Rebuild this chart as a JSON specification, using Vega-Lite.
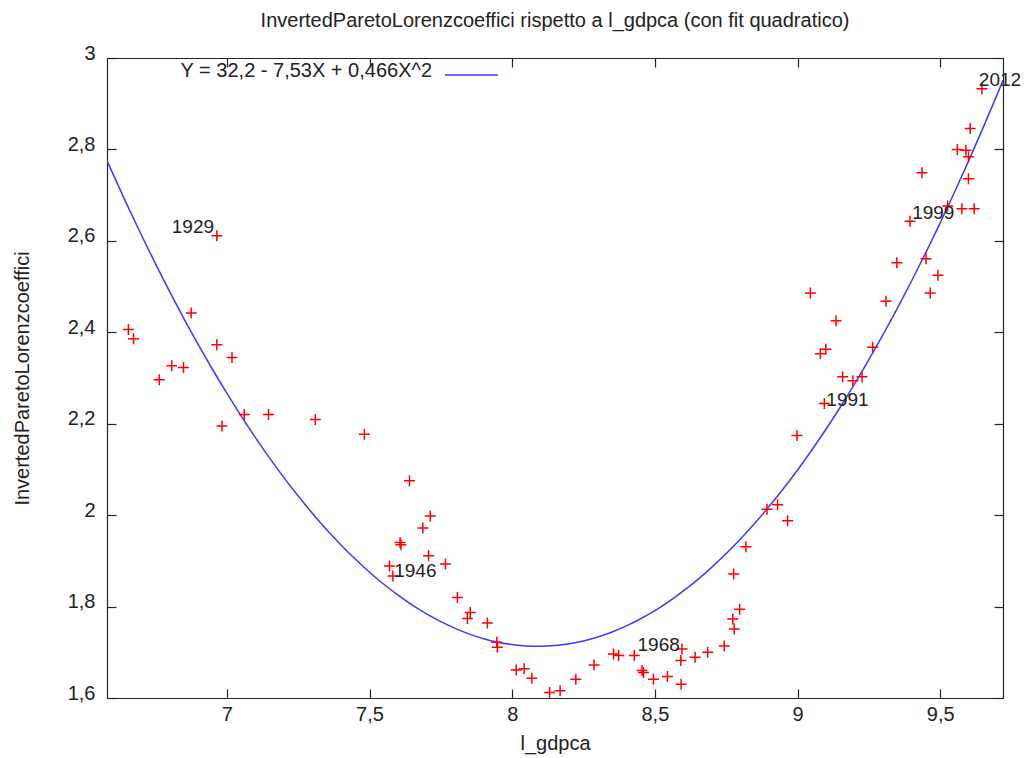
{
  "$schema": "https://vega.github.io/schema/vega-lite/v6.json",
  "width": 896,
  "height": 640,
  "autosize": {"type": "none"},
  "padding": {"left": 107, "top": 58, "right": 24, "bottom": 60},
  "background": "white",
  "title": {
    "text": "InvertedParetoLorenzcoeffici rispetto a l_gdpca (con fit quadratico)",
    "font": "Liberation Sans",
    "fontSize": 20,
    "fontWeight": "normal",
    "color": "#222222",
    "anchor": "middle",
    "frame": "group",
    "baseline": "alphabetic",
    "offset": 16,
    "dy": 20
  },
  "config": {"view": {"stroke": null}, "font": "Liberation Sans"},
  "datasets": {
    "curve": [
      {"x": 6.58, "y": 2.7755}, {"x": 6.65, "y": 2.6793}, {"x": 6.7, "y": 2.6134}, {"x": 6.75, "y": 2.5497},
      {"x": 6.8, "y": 2.4885}, {"x": 6.85, "y": 2.4295}, {"x": 6.9, "y": 2.3729}, {"x": 6.95, "y": 2.3186},
      {"x": 7.0, "y": 2.2667}, {"x": 7.05, "y": 2.217}, {"x": 7.1, "y": 2.1697}, {"x": 7.15, "y": 2.1248},
      {"x": 7.2, "y": 2.0821}, {"x": 7.25, "y": 2.0418}, {"x": 7.3, "y": 2.0038}, {"x": 7.35, "y": 1.9682},
      {"x": 7.4, "y": 1.9349}, {"x": 7.45, "y": 1.9039}, {"x": 7.5, "y": 1.8752}, {"x": 7.55, "y": 1.8489},
      {"x": 7.6, "y": 1.8249}, {"x": 7.65, "y": 1.8032}, {"x": 7.7, "y": 1.7839}, {"x": 7.75, "y": 1.7669},
      {"x": 7.8, "y": 1.7522}, {"x": 7.85, "y": 1.7398}, {"x": 7.9, "y": 1.7298}, {"x": 7.95, "y": 1.7221},
      {"x": 8.0, "y": 1.7168}, {"x": 8.05, "y": 1.7137}, {"x": 8.1, "y": 1.713}, {"x": 8.15, "y": 1.7147},
      {"x": 8.2, "y": 1.7186}, {"x": 8.25, "y": 1.7249}, {"x": 8.3, "y": 1.7336}, {"x": 8.35, "y": 1.7445},
      {"x": 8.4, "y": 1.7578}, {"x": 8.45, "y": 1.7734}, {"x": 8.5, "y": 1.7913}, {"x": 8.55, "y": 1.8116},
      {"x": 8.6, "y": 1.8342}, {"x": 8.65, "y": 1.8591}, {"x": 8.7, "y": 1.8864}, {"x": 8.75, "y": 1.916},
      {"x": 8.8, "y": 1.9479}, {"x": 8.85, "y": 1.9822}, {"x": 8.9, "y": 2.0187}, {"x": 8.95, "y": 2.0577},
      {"x": 9.0, "y": 2.0989}, {"x": 9.05, "y": 2.1425}, {"x": 9.1, "y": 2.1884}, {"x": 9.15, "y": 2.2366},
      {"x": 9.2, "y": 2.2872}, {"x": 9.25, "y": 2.34}, {"x": 9.3, "y": 2.3953}, {"x": 9.35, "y": 2.4528},
      {"x": 9.4, "y": 2.5127}, {"x": 9.45, "y": 2.5749}, {"x": 9.5, "y": 2.6395}, {"x": 9.55, "y": 2.7063},
      {"x": 9.6, "y": 2.7755}, {"x": 9.65, "y": 2.8471}, {"x": 9.7, "y": 2.9209}, {"x": 9.72, "y": 2.9511}
    ],
    "points": [
      {"x": 6.655, "y": 2.406}, {"x": 6.673, "y": 2.386}, {"x": 6.763, "y": 2.296}, {"x": 6.807, "y": 2.327},
      {"x": 6.848, "y": 2.323}, {"x": 6.875, "y": 2.442}, {"x": 6.965, "y": 2.611}, {"x": 6.965, "y": 2.373},
      {"x": 6.983, "y": 2.195}, {"x": 7.018, "y": 2.345}, {"x": 7.061, "y": 2.22}, {"x": 7.146, "y": 2.22},
      {"x": 7.31, "y": 2.209}, {"x": 7.482, "y": 2.177}, {"x": 7.57, "y": 1.889}, {"x": 7.582, "y": 1.867},
      {"x": 7.607, "y": 1.94}, {"x": 7.61, "y": 1.935}, {"x": 7.64, "y": 2.075}, {"x": 7.687, "y": 1.972},
      {"x": 7.707, "y": 1.911}, {"x": 7.713, "y": 1.998}, {"x": 7.766, "y": 1.893}, {"x": 7.808, "y": 1.82},
      {"x": 7.843, "y": 1.774}, {"x": 7.853, "y": 1.787}, {"x": 7.913, "y": 1.764}, {"x": 7.946, "y": 1.722},
      {"x": 7.948, "y": 1.711}, {"x": 8.014, "y": 1.661}, {"x": 8.042, "y": 1.664}, {"x": 8.069, "y": 1.643},
      {"x": 8.131, "y": 1.612}, {"x": 8.168, "y": 1.616}, {"x": 8.223, "y": 1.641}, {"x": 8.287, "y": 1.672},
      {"x": 8.355, "y": 1.696}, {"x": 8.373, "y": 1.693}, {"x": 8.428, "y": 1.693}, {"x": 8.455, "y": 1.66},
      {"x": 8.46, "y": 1.656}, {"x": 8.495, "y": 1.641}, {"x": 8.544, "y": 1.647}, {"x": 8.591, "y": 1.682},
      {"x": 8.592, "y": 1.63}, {"x": 8.595, "y": 1.707}, {"x": 8.641, "y": 1.689}, {"x": 8.685, "y": 1.7},
      {"x": 8.743, "y": 1.714}, {"x": 8.773, "y": 1.773}, {"x": 8.778, "y": 1.751}, {"x": 8.776, "y": 1.871},
      {"x": 8.797, "y": 1.794}, {"x": 8.819, "y": 1.931}, {"x": 8.893, "y": 2.013}, {"x": 8.93, "y": 2.023},
      {"x": 8.965, "y": 1.988}, {"x": 8.998, "y": 2.174}, {"x": 9.045, "y": 2.486}, {"x": 9.08, "y": 2.353},
      {"x": 9.094, "y": 2.244}, {"x": 9.099, "y": 2.363}, {"x": 9.135, "y": 2.425}, {"x": 9.158, "y": 2.303},
      {"x": 9.194, "y": 2.294}, {"x": 9.226, "y": 2.303}, {"x": 9.263, "y": 2.367}, {"x": 9.31, "y": 2.468},
      {"x": 9.348, "y": 2.552}, {"x": 9.394, "y": 2.643}, {"x": 9.436, "y": 2.749}, {"x": 9.45, "y": 2.561},
      {"x": 9.465, "y": 2.486}, {"x": 9.492, "y": 2.525}, {"x": 9.526, "y": 2.676}, {"x": 9.56, "y": 2.8},
      {"x": 9.576, "y": 2.67}, {"x": 9.59, "y": 2.798}, {"x": 9.599, "y": 2.784}, {"x": 9.599, "y": 2.736},
      {"x": 9.605, "y": 2.846}, {"x": 9.619, "y": 2.67}, {"x": 9.646, "y": 2.933}
    ],
    "labels": [
      {"x": 6.881, "y": 2.63, "label": "1929"},
      {"x": 7.6605, "y": 1.877, "label": "1946"},
      {"x": 8.5134, "y": 1.7153, "label": "1968"},
      {"x": 9.1751, "y": 2.2525, "label": "1991"},
      {"x": 9.4757, "y": 2.662, "label": "1999"},
      {"x": 9.7095, "y": 2.9525, "label": "2012"}
    ],
    "keytext": [{"x": 7.719, "y": 2.959, "label": "Y = 32,2 - 7,53X + 0,466X^2"}],
    "keyline": [{"x": 7.7645, "x2": 7.9502, "y": 2.9628}]
  },
  "layer": [
    {
      "data": {"name": "curve"},
      "mark": {"type": "line", "color": "#3a3aff", "strokeWidth": 1.5, "clip": true, "interpolate": "monotone"},
      "encoding": {
        "x": {
          "field": "x", "type": "quantitative",
          "scale": {"domain": [6.58, 9.72], "nice": false, "zero": false},
          "axis": {
            "orient": "bottom", "values": [7, 7.5, 8, 8.5, 9, 9.5],
            "labelExpr": "replace(format(datum.value, '~g'), '.', ',')",
            "title": "l_gdpca", "grid": false,
            "tickSize": -9, "labelPadding": 15.5,
            "domainColor": "#222222", "tickColor": "#222222", "domainWidth": 1.2, "tickWidth": 1.2,
            "labelFont": "Liberation Sans", "labelFontSize": 20, "labelColor": "#222222",
            "titleFont": "Liberation Sans", "titleFontSize": 20, "titleFontWeight": "normal", "titleColor": "#222222",
            "titleBaseline": "alphabetic", "titlePadding": 24.5
          }
        },
        "y": {
          "field": "y", "type": "quantitative",
          "scale": {"domain": [1.6, 3], "nice": false, "zero": false},
          "axis": {
            "orient": "left", "values": [1.6, 1.8, 2, 2.2, 2.4, 2.6, 2.8, 3],
            "labelExpr": "replace(format(datum.value, '~g'), '.', ',')",
            "title": "InvertedParetoLorenzcoeffici", "grid": false,
            "tickSize": -9, "labelPadding": 21, "labelBaseline": "alphabetic", "labelOffset": 1,
            "domainColor": "#222222", "tickColor": "#222222", "domainWidth": 1.2, "tickWidth": 1.2,
            "labelFont": "Liberation Sans", "labelFontSize": 20, "labelColor": "#222222",
            "titleFont": "Liberation Sans", "titleFontSize": 20, "titleFontWeight": "normal", "titleColor": "#222222",
            "titleBaseline": "alphabetic", "titlePadding": 38.5
          }
        }
      }
    },
    {
      "data": {"name": "points"},
      "mark": {"type": "point", "shape": "M-1,0H1M0,-1V1", "size": 121, "color": "#ff0000", "filled": false, "strokeWidth": 1.5, "opacity": 1},
      "encoding": {
        "x": {
          "field": "x", "type": "quantitative",
          "scale": {"domain": [6.58, 9.72], "nice": false, "zero": false},
          "axis": {
            "orient": "top", "values": [7, 7.5, 8, 8.5, 9, 9.5], "labels": false, "title": null, "grid": false,
            "tickSize": -9, "domainColor": "#222222", "tickColor": "#222222", "domainWidth": 1.2, "tickWidth": 1.2
          }
        },
        "y": {
          "field": "y", "type": "quantitative",
          "scale": {"domain": [1.6, 3], "nice": false, "zero": false},
          "axis": {
            "orient": "right", "values": [1.6, 1.8, 2, 2.2, 2.4, 2.6, 2.8, 3], "labels": false, "title": null, "grid": false,
            "tickSize": -9, "domainColor": "#222222", "tickColor": "#222222", "domainWidth": 1.2, "tickWidth": 1.2
          }
        }
      }
    },
    {
      "data": {"name": "labels"},
      "mark": {"type": "text", "font": "Liberation Sans", "fontSize": 19, "color": "#222222", "align": "center", "baseline": "middle"},
      "encoding": {
        "x": {"field": "x", "type": "quantitative", "scale": {"domain": [6.58, 9.72], "nice": false, "zero": false}, "axis": null},
        "y": {"field": "y", "type": "quantitative", "scale": {"domain": [1.6, 3], "nice": false, "zero": false}, "axis": null},
        "text": {"field": "label"}
      }
    },
    {
      "data": {"name": "keytext"},
      "mark": {"type": "text", "font": "Liberation Sans", "fontSize": 20, "color": "#222222", "align": "right", "baseline": "alphabetic"},
      "encoding": {
        "x": {"field": "x", "type": "quantitative", "scale": {"domain": [6.58, 9.72], "nice": false, "zero": false}, "axis": null},
        "y": {"field": "y", "type": "quantitative", "scale": {"domain": [1.6, 3], "nice": false, "zero": false}, "axis": null},
        "text": {"field": "label"}
      }
    },
    {
      "data": {"name": "keyline"},
      "mark": {"type": "rule", "color": "#3a3aff", "strokeWidth": 1.5},
      "encoding": {
        "x": {"field": "x", "type": "quantitative", "scale": {"domain": [6.58, 9.72], "nice": false, "zero": false}, "axis": null},
        "x2": {"field": "x2"},
        "y": {"field": "y", "type": "quantitative", "scale": {"domain": [1.6, 3], "nice": false, "zero": false}, "axis": null}
      }
    }
  ],
  "resolve": {"axis": {"x": "independent", "y": "independent"}}
}
